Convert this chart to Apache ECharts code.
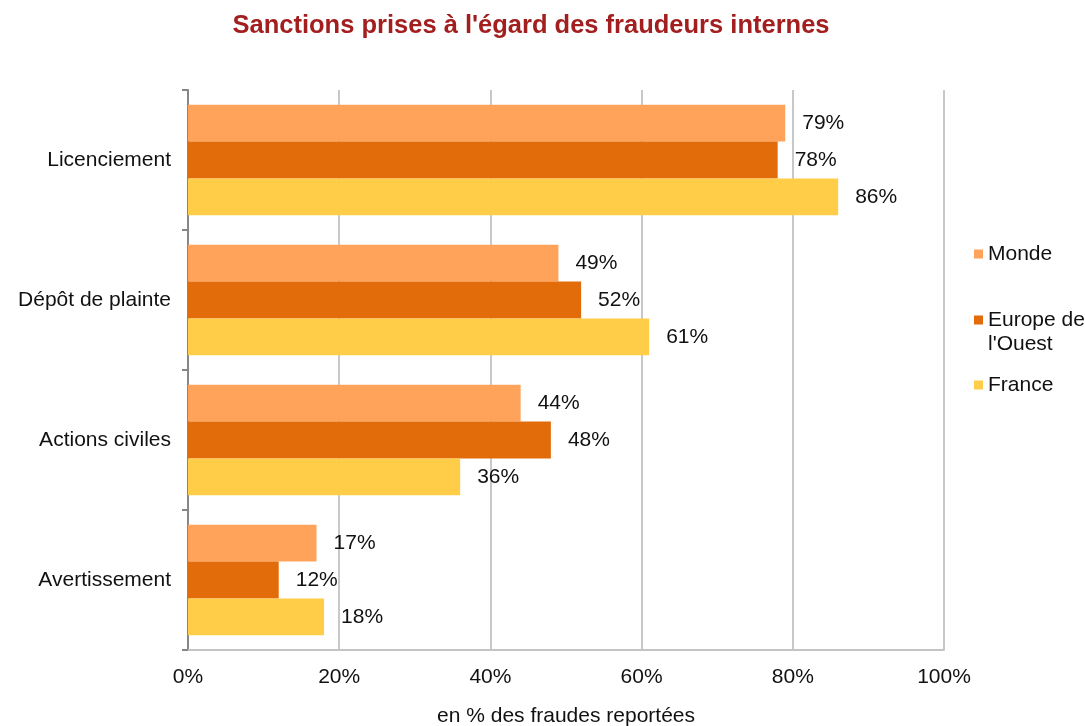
<!DOCTYPE html>
<html>
<head>
<meta charset="utf-8">
<script src="https://cdn.jsdelivr.net/npm/echarts@6/dist/echarts.min.js"></script>
<style>
  html, body { margin: 0; padding: 0; background: #fff; }
  #chart { width: 1085px; height: 726px; }
</style>
</head>
<body>
<div id="chart"></div>
<script>
// Sanctions categories (top to bottom)
const categories = ['Licenciement', 'Dépôt de plainte', 'Actions civiles', 'Avertissement'];
// Share of reported frauds, in %
const monde = [79, 49, 44, 17];
const europeOuest = [78, 52, 48, 12];
const france = [86, 61, 36, 18];
const seriesNames = ['Monde', "Europe de l'Ouest", 'France'];
const seriesColors = ['#FFA35A', '#E36C0A', '#FFCD48'];
const xTicks = [0, 20, 40, 60, 80, 100];

const FONT = '"Liberation Sans", Arial, sans-serif';
const TEXT = '#111';

const chart = echarts.init(document.getElementById('chart'), null, { renderer: 'canvas' });

function barSeries(name, data, color) {
  return {
    name: name,
    type: 'bar',
    data: data,
    barGap: '0%',
    barCategoryGap: '21%',
    itemStyle: { color: color },
    label: {
      show: true,
      position: 'right',
      distance: 17,
      formatter: '{c}%',
      color: TEXT,
      fontSize: 21,
      fontFamily: FONT
    },
    emphasis: { disabled: true }
  };
}

// One legend block per series so the icons sit on an even vertical rhythm.
// The two-line entry gets a blank leading line so its icon lines up with "Europe de".
function legendBlock(name, top, twoLines) {
  return {
    orient: 'vertical',
    left: 969,
    top: top,
    itemWidth: 9,
    itemHeight: 9,
    itemGap: 0,
    icon: 'rect',
    data: [name],
    selectedMode: false,
    formatter: function (n) { return twoLines ? " \nEurope de\nl'Ouest" : n; },
    textStyle: { fontSize: 21, fontFamily: FONT, color: TEXT, lineHeight: 24 }
  };
}

chart.setOption({
  animation: false,
  backgroundColor: '#ffffff',
  title: {
    text: "Sanctions prises à l'égard des fraudeurs internes",
    left: 526,
    top: 8,
    textAlign: 'center',
    textStyle: { color: '#A31F1F', fontSize: 25.5, fontWeight: 'bold', fontFamily: FONT }
  },
  legend: [
    legendBlock(seriesNames[0], 237, false),
    legendBlock(seriesNames[1], 279, true),
    legendBlock(seriesNames[2], 368, false)
  ],
  grid: { left: 188, right: 141, top: 90, bottom: 76, containLabel: false, outerBoundsMode: 'none' },
  xAxis: {
    type: 'value',
    min: xTicks[0],
    max: xTicks[xTicks.length - 1],
    interval: 20,
    name: 'en % des fraudes reportées',
    nameLocation: 'middle',
    nameGap: 56,
    nameTextStyle: { fontSize: 21, fontFamily: FONT, color: TEXT },
    axisLine: { show: true, lineStyle: { color: '#c4c4c4', width: 2 } },
    axisTick: { show: false },
    axisLabel: { formatter: '{value}%', fontSize: 21, fontFamily: FONT, color: TEXT, margin: 17 },
    splitLine: { show: true, lineStyle: { color: '#c8c8c8', width: 2 } }
  },
  yAxis: {
    type: 'category',
    data: categories,
    inverse: true,
    axisLine: { show: true, lineStyle: { color: '#868686', width: 2 } },
    axisTick: { show: true, length: 6, lineStyle: { color: '#868686', width: 2 } },
    axisLabel: { fontSize: 21, fontFamily: FONT, color: TEXT, margin: 17 }
  },
  series: [
    barSeries(seriesNames[0], monde, seriesColors[0]),
    barSeries(seriesNames[1], europeOuest, seriesColors[1]),
    barSeries(seriesNames[2], france, seriesColors[2])
  ]
});
</script>
</body>
</html>
